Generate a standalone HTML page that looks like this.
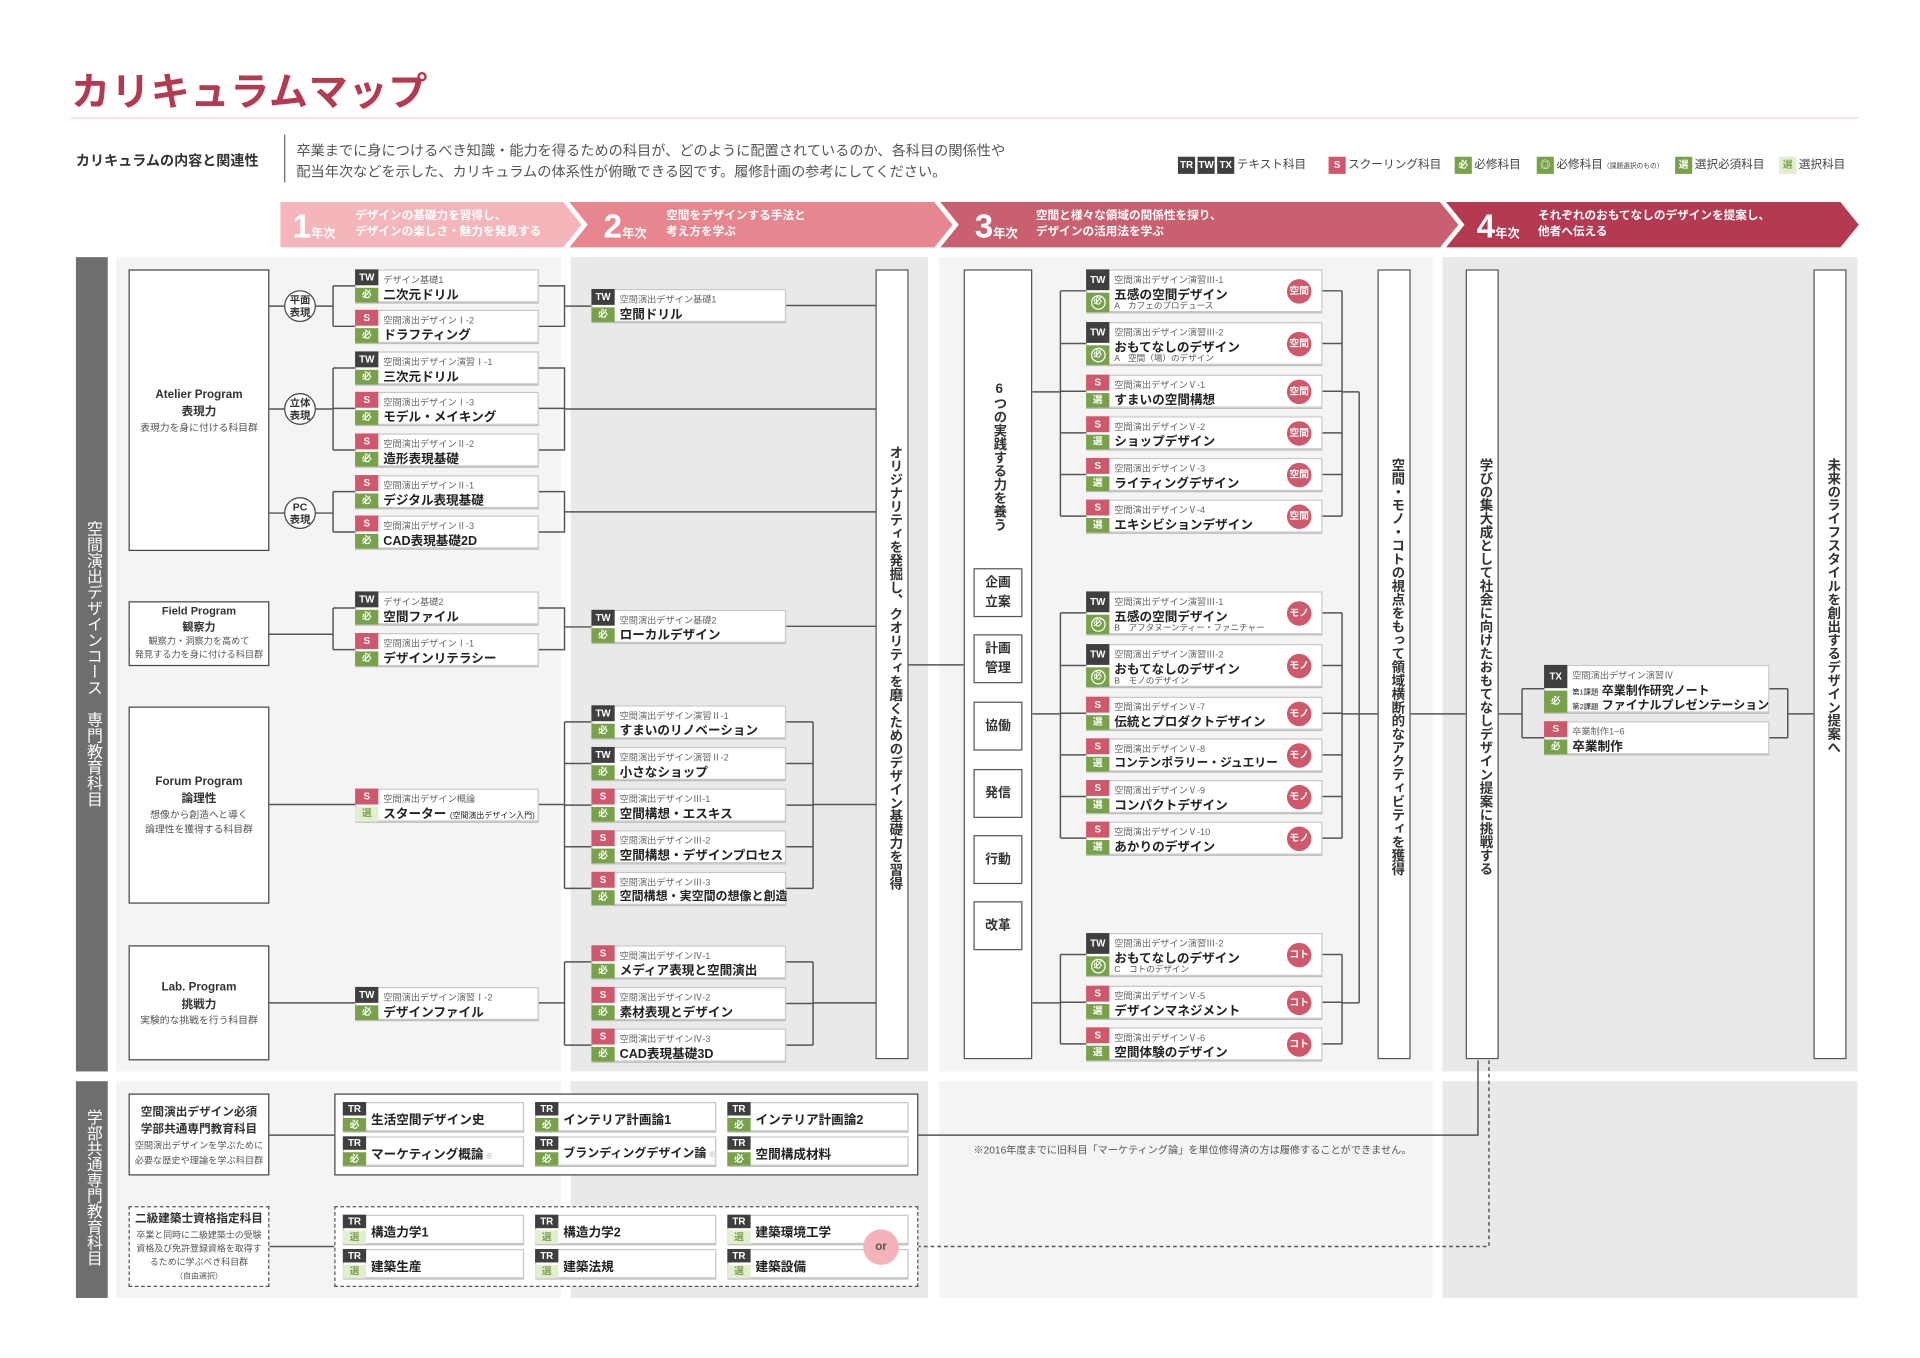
<!DOCTYPE html>
<html><head><meta charset="utf-8">
<style>
*{margin:0;padding:0;box-sizing:border-box}
html,body{width:1920px;height:1358px;overflow:hidden;background:#fff}
#w{position:absolute;left:0;top:0;width:1568px;height:1109px;transform:scale(1.22449);transform-origin:0 0;font-family:"Liberation Sans","Noto Sans CJK JP",sans-serif;color:#333}
.a{position:absolute}
.bg1{position:absolute;background:#f4f4f4}
.bg2{position:absolute;background:#e9e9e9}
.c{position:absolute;background:#fff;border:1px solid #c8c8c8;box-shadow:0 1px 0 #bdbdbd}
.c i{position:absolute;left:-1px;width:19px;height:50%;font-style:normal;font-size:8px;font-weight:bold;color:#fff;text-align:center;display:flex;align-items:center;justify-content:center}
.c i.t{top:-1px}.c i.b{bottom:-1px}
.k{background:#3f3f3f}.s{background:#d0586c}.g{background:#78a24a}.l{background:#e2eed0;color:#78a24a!important}
.gc span{display:inline-block;width:12px;height:12px;border:1px solid #fff;border-radius:50%;font-size:7px;line-height:10px}
.c b{position:absolute;left:22px;top:2px;font-size:7.5px;font-weight:normal;color:#666;white-space:nowrap}
.c u{position:absolute;left:22px;top:11px;font-size:10.3px;font-weight:bold;color:#222;text-decoration:none;white-space:nowrap}
.c em{position:absolute;left:22px;top:24px;font-size:7px;font-style:normal;color:#555;white-space:nowrap}
.bd{position:absolute;right:8px;top:50%;margin-top:-10px;width:20px;height:20px;border-radius:50%;background:#cf586b;color:#fff;font-size:8px;line-height:20px;text-align:center;font-weight:bold}
.d u{top:5px;font-size:10.3px}
.pb{position:absolute;background:#fff;border:1.3px solid #444;text-align:center}
.pb h4{font-size:9.5px;font-weight:bold;color:#333;line-height:14px}
.pb p{font-size:8px;color:#555;line-height:12px}
.vb{position:absolute;background:#fff;border:1.3px solid #555}
.vt{position:absolute;writing-mode:vertical-rl;text-orientation:upright;font-size:11px;font-weight:bold;color:#333;letter-spacing:0}
.sb{position:absolute;left:7px;width:40px;height:40px;border:1.3px solid #555;background:#fff;font-size:10.5px;font-weight:bold;display:flex;align-items:center;justify-content:center;text-align:center;line-height:16px}
.ci{position:absolute;width:26px;height:26px;border:1.3px solid #444;border-radius:50%;background:#fff;font-size:8.5px;font-weight:bold;line-height:10px;text-align:center;display:flex;align-items:center;justify-content:center}
.yn{position:absolute;color:#fff;font-weight:bold;font-size:27px;line-height:27px}
.yn small{font-size:10px}
.yt{position:absolute;color:#fff;font-weight:bold;font-size:9.5px;line-height:13px;white-space:nowrap}
.lg{position:absolute;top:128px;font-size:9.5px;color:#444;white-space:nowrap;line-height:14px}
.lg i{display:inline-block;font-style:normal;color:#fff;font-size:8px;font-weight:bold;width:14px;height:14px;text-align:center;margin-right:2px;vertical-align:top}
</style></head><body>
<div id="w">
<!-- header -->
<div class="a" style="left:58px;top:50px;font-size:32px;font-weight:bold;color:#b5394f;letter-spacing:0.5px">カリキュラムマップ</div>
<div class="a" style="left:58px;top:96px;width:1460px;height:1px;background:#f3d3d8"></div>
<div class="a" style="left:62px;top:123px;font-size:11.5px;font-weight:bold;color:#333">カリキュラムの内容と関連性</div>
<div class="a" style="left:232px;top:110px;width:1px;height:39px;background:#666"></div>
<div class="a" style="left:242px;top:115px;font-size:11.6px;color:#555;line-height:17px;white-space:nowrap">卒業までに身につけるべき知識・能力を得るための科目が、どのように配置されているのか、各科目の関係性や<br>配当年次などを示した、カリキュラムの体系性が俯瞰できる図です。履修計画の参考にしてください。</div>
<div class="lg" style="left:962px"><i class="k">TR</i><i class="k">TW</i><i class="k">TX</i>テキスト科目</div>
<div class="lg" style="left:1085px"><i class="s">S</i>スクーリング科目</div>
<div class="lg" style="left:1188px"><i class="g">必</i>必修科目</div>
<div class="lg" style="left:1255px"><i class="g">◎</i>必修科目<span style="font-size:5.5px">（課題選択のもの）</span></div>
<div class="lg" style="left:1368px"><i class="g">選</i>選択必須科目</div>
<div class="lg" style="left:1453px"><i class="l">選</i>選択科目</div>

<!-- year banner -->
<svg class="a" style="left:0;top:0" width="1568" height="1109">
<polygon points="229,165 460,165 475,183.5 460,202 229,202" fill="#f4b5bb"/>
<polygon points="465,165 763,165 778,183.5 763,202 465,202 480,183.5" fill="#e8868f"/>
<polygon points="768,165 1176,165 1191,183.5 1176,202 768,202 783,183.5" fill="#c9606f"/>
<polygon points="1181,165 1503,165 1518,183.5 1503,202 1181,202 1196,183.5" fill="#b43a52"/>
</svg>
<div class="yn" style="left:239px;top:172px">1<small>年次</small></div>
<div class="yt" style="left:290px;top:170px">デザインの基礎力を習得し、<br>デザインの楽しさ・魅力を発見する</div>
<div class="yn" style="left:493px;top:172px">2<small>年次</small></div>
<div class="yt" style="left:544px;top:170px">空間をデザインする手法と<br>考え方を学ぶ</div>
<div class="yn" style="left:796px;top:172px">3<small>年次</small></div>
<div class="yt" style="left:846px;top:170px">空間と様々な領域の関係性を探り、<br>デザインの活用法を学ぶ</div>
<div class="yn" style="left:1206px;top:172px">4<small>年次</small></div>
<div class="yt" style="left:1256px;top:170px">それぞれのおもてなしのデザインを提案し、<br>他者へ伝える</div>

<!-- backgrounds -->
<div class="bg1" style="left:95px;top:210px;width:363px;height:665px"></div>
<div class="bg2" style="left:466px;top:210px;width:292px;height:665px"></div>
<div class="bg1" style="left:767px;top:210px;width:403px;height:665px"></div>
<div class="bg2" style="left:1178px;top:210px;width:339px;height:665px"></div>
<div class="bg1" style="left:95px;top:883px;width:363px;height:177px"></div>
<div class="bg2" style="left:466px;top:883px;width:292px;height:177px"></div>
<div class="bg1" style="left:767px;top:883px;width:403px;height:177px"></div>
<div class="bg2" style="left:1178px;top:883px;width:339px;height:177px"></div>
<div class="a" style="left:62px;top:210px;width:26px;height:665px;background:#6e6e6e"></div>
<div class="a" style="left:62px;top:883px;width:26px;height:177px;background:#6e6e6e"></div>
<div class="vt" style="left:67px;top:425px;color:#fff;font-weight:normal;font-size:13px">空間演出デザインコース　専門教育科目</div>
<div class="vt" style="left:67px;top:906px;color:#fff;font-weight:normal;font-size:12.8px">学部共通専門教育科目</div>

<!-- connectors -->
<svg class="a" style="left:0;top:0" width="1568" height="1109" fill="none" stroke="#555" stroke-width="1.2">
<path d="M220 250H232M258 250H272M272 233.5V266.5M272 233.5H290M272 266.5H290"/>
<path d="M220 334H232M258 334H272M272 300.5V367.5M272 300.5H290M272 333.5H290M272 367.5H290"/>
<path d="M220 419H232M258 419H272M272 401.5V434.5M272 401.5H290M272 434.5H290"/>
<path d="M440 233.5H461V266.5H440M461 250H483M642 249.5H715"/>
<path d="M440 300.5H461V367.5H440M440 333.5H461M461 334H715"/>
<path d="M440 401.5H461V434.5H440M461 418H715"/>
<path d="M220 518H272M272 496.5V530.5M272 496.5H290M272 530.5H290M440 496.5H461V530.5H440M461 512H483M642 511.5H715"/>
<path d="M220 657H290M440 657H461M461 589.5V725.5M461 589.5H483M461 623.5H483M461 657.5H483M461 691.5H483M461 725.5H483"/>
<path d="M642 589.5H664M642 623.5H664M642 657.5H664M642 691.5H664M642 725.5H664M664 589.5V725.5M664 657H715"/>
<path d="M220 819H290M440 819H461M461 785.5V853.5M461 785.5H483M461 853.5H483M642 785.5H664M642 819.5H664M642 853.5H664M664 785.5V853.5M664 819H715"/>
<path d="M741 543H787"/>
<path d="M843 320H866M866 237.5V421.5M866 237.5H887M866 280.5H887M866 319.5H887M866 353.5H887M866 387.5H887M866 421.5H887"/>
<path d="M1080 237.5H1096M1080 280.5H1096M1080 319.5H1096M1080 353.5H1096M1080 387.5H1096M1080 421.5H1096M1096 237.5V421.5M1096 320H1110"/>
<path d="M843 583H866M866 500.5V684.5M866 500.5H887M866 543.5H887M866 582.5H887M866 616.5H887M866 650.5H887M866 684.5H887"/>
<path d="M1080 500.5H1096M1080 543.5H1096M1080 582.5H1096M1080 616.5H1096M1080 650.5H1096M1080 684.5H1096M1096 500.5V684.5M1096 583H1125"/>
<path d="M843 819H866M866 779.5V852.5M866 779.5H887M866 818.5H887M866 852.5H887M1080 779.5H1096M1080 818.5H1096M1080 852.5H1096M1096 779.5V852.5M1096 819H1110M1110 320V819"/>
<path d="M1152 583H1197M1223 583H1243M1243 562.5V602.5M1243 562.5H1261M1243 602.5H1261M1445 562.5H1460M1445 602.5H1460M1460 562.5V602.5M1460 583H1481"/>
<path d="M1207 866V927H750M220 927H273M220 1018H273M428 1003H437"/>
<path d="M1216 866V1018H750" stroke-dasharray="3,2.5"/>
</svg>

<!-- program boxes -->
<div class="pb" style="left:105px;top:220px;width:115px;height:230px;padding-top:95px"><h4>Atelier Program<br>表現力</h4><p>表現力を身に付ける科目群</p></div>
<div class="pb" style="left:105px;top:491px;width:115px;height:53px;padding-top:1px"><h4 style="line-height:12.5px;font-size:9px">Field Program<br>観察力</h4><p style="line-height:11px;font-size:7.5px">観察力・洞察力を高めて<br>発見する力を身に付ける科目群</p></div>
<div class="pb" style="left:105px;top:577px;width:115px;height:161px;padding-top:54px"><h4>Forum Program<br>論理性</h4><p>想像から創造へと導く<br>論理性を獲得する科目群</p></div>
<div class="pb" style="left:105px;top:772px;width:115px;height:94px;padding-top:27px"><h4>Lab. Program<br>挑戦力</h4><p>実験的な挑戦を行う科目群</p></div>
<div class="ci" style="left:232px;top:237px">平面<br>表現</div>
<div class="ci" style="left:232px;top:321px">立体<br>表現</div>
<div class="ci" style="left:232px;top:406px">PC<br>表現</div>

<!-- col1 cards -->
<div class="c" style="left:290px;top:220px;width:150px;height:27px"><i class="t k">TW</i><i class="b g">必</i><b>デザイン基礎1</b><u>二次元ドリル</u></div>
<div class="c" style="left:290px;top:253px;width:150px;height:27px"><i class="t s">S</i><i class="b g">必</i><b>空間演出デザインⅠ-2</b><u>ドラフティング</u></div>
<div class="c" style="left:290px;top:287px;width:150px;height:27px"><i class="t k">TW</i><i class="b g">必</i><b>空間演出デザイン演習Ⅰ-1</b><u>三次元ドリル</u></div>
<div class="c" style="left:290px;top:320px;width:150px;height:27px"><i class="t s">S</i><i class="b g">必</i><b>空間演出デザインⅠ-3</b><u>モデル・メイキング</u></div>
<div class="c" style="left:290px;top:354px;width:150px;height:27px"><i class="t s">S</i><i class="b g">必</i><b>空間演出デザインⅡ-2</b><u>造形表現基礎</u></div>
<div class="c" style="left:290px;top:388px;width:150px;height:27px"><i class="t s">S</i><i class="b g">必</i><b>空間演出デザインⅡ-1</b><u>デジタル表現基礎</u></div>
<div class="c" style="left:290px;top:421px;width:150px;height:27px"><i class="t s">S</i><i class="b g">必</i><b>空間演出デザインⅡ-3</b><u>CAD表現基礎2D</u></div>
<div class="c" style="left:290px;top:483px;width:150px;height:27px"><i class="t k">TW</i><i class="b g">必</i><b>デザイン基礎2</b><u>空間ファイル</u></div>
<div class="c" style="left:290px;top:517px;width:150px;height:27px"><i class="t s">S</i><i class="b g">必</i><b>空間演出デザインⅠ-1</b><u>デザインリテラシー</u></div>
<div class="c" style="left:290px;top:644px;width:150px;height:27px"><i class="t s">S</i><i class="b l">選</i><b>空間演出デザイン概論</b><u>スターター <span style="font-size:6.5px;font-weight:normal">(空間演出デザイン入門)</span></u></div>
<div class="c" style="left:290px;top:806px;width:150px;height:27px"><i class="t k">TW</i><i class="b g">必</i><b>空間演出デザイン演習Ⅰ-2</b><u>デザインファイル</u></div>

<!-- col2 cards -->
<div class="c" style="left:483px;top:236px;width:159px;height:27px"><i class="t k">TW</i><i class="b g">必</i><b>空間演出デザイン基礎1</b><u>空間ドリル</u></div>
<div class="c" style="left:483px;top:498px;width:159px;height:27px"><i class="t k">TW</i><i class="b g">必</i><b>空間演出デザイン基礎2</b><u>ローカルデザイン</u></div>
<div class="c" style="left:483px;top:576px;width:159px;height:27px"><i class="t k">TW</i><i class="b g">必</i><b>空間演出デザイン演習Ⅱ-1</b><u>すまいのリノベーション</u></div>
<div class="c" style="left:483px;top:610px;width:159px;height:27px"><i class="t k">TW</i><i class="b g">必</i><b>空間演出デザイン演習Ⅱ-2</b><u>小さなショップ</u></div>
<div class="c" style="left:483px;top:644px;width:159px;height:27px"><i class="t s">S</i><i class="b g">必</i><b>空間演出デザインⅢ-1</b><u>空間構想・エスキス</u></div>
<div class="c" style="left:483px;top:678px;width:159px;height:27px"><i class="t s">S</i><i class="b g">必</i><b>空間演出デザインⅢ-2</b><u>空間構想・デザインプロセス</u></div>
<div class="c" style="left:483px;top:712px;width:159px;height:27px"><i class="t s">S</i><i class="b g">必</i><b>空間演出デザインⅢ-3</b><u style="font-size:9.8px">空間構想・実空間の想像と創造</u></div>
<div class="c" style="left:483px;top:772px;width:159px;height:27px"><i class="t s">S</i><i class="b g">必</i><b>空間演出デザインⅣ-1</b><u>メディア表現と空間演出</u></div>
<div class="c" style="left:483px;top:806px;width:159px;height:27px"><i class="t s">S</i><i class="b g">必</i><b>空間演出デザインⅣ-2</b><u>素材表現とデザイン</u></div>
<div class="c" style="left:483px;top:840px;width:159px;height:27px"><i class="t s">S</i><i class="b g">必</i><b>空間演出デザインⅣ-3</b><u>CAD表現基礎3D</u></div>

<!-- vertical boxes -->
<div class="vb" style="left:715px;top:220px;width:27px;height:645px"><div class="vt" style="left:7px;top:143px">オリジナリティを発掘し、クオリティを磨くためのデザイン基礎力を習得</div></div>
<div class="vb" style="left:787px;top:220px;width:56px;height:645px"><div class="vt" style="left:20px;top:91px">6つの実践する力を養う</div>
<div class="sb" style="top:243px">企画<br>立案</div><div class="sb" style="top:297px">計画<br>管理</div><div class="sb" style="top:352px">協働</div><div class="sb" style="top:407px">発信</div><div class="sb" style="top:461px">行動</div><div class="sb" style="top:515px">改革</div></div>
<div class="vb" style="left:1125px;top:220px;width:27px;height:645px"><div class="vt" style="left:7px;top:153px">空間・モノ・コトの視点をもって領域横断的なアクティビティを獲得</div></div>
<div class="vb" style="left:1197px;top:220px;width:27px;height:645px"><div class="vt" style="left:7px;top:153px">学びの集大成として社会に向けたおもてなしデザイン提案に挑戦する</div></div>
<div class="vb" style="left:1481px;top:220px;width:27px;height:645px"><div class="vt" style="left:7px;top:153px">未来のライフスタイルを創出するデザイン提案へ</div></div>

<!-- col3 cards -->
<div class="c" style="left:887px;top:220px;width:193px;height:35px"><i class="t k">TW</i><i class="b g gc"><span>必</span></i><b>空間演出デザイン演習Ⅲ-1</b><u>五感の空間デザイン</u><em>A　カフェのプロデュース</em><span class="bd">空間</span></div>
<div class="c" style="left:887px;top:263px;width:193px;height:35px"><i class="t k">TW</i><i class="b g gc"><span>必</span></i><b>空間演出デザイン演習Ⅲ-2</b><u>おもてなしのデザイン</u><em>A　空間（場）のデザイン</em><span class="bd">空間</span></div>
<div class="c" style="left:887px;top:306px;width:193px;height:27px"><i class="t s">S</i><i class="b g">選</i><b>空間演出デザインⅤ-1</b><u>すまいの空間構想</u><span class="bd">空間</span></div>
<div class="c" style="left:887px;top:340px;width:193px;height:27px"><i class="t s">S</i><i class="b g">選</i><b>空間演出デザインⅤ-2</b><u>ショップデザイン</u><span class="bd">空間</span></div>
<div class="c" style="left:887px;top:374px;width:193px;height:27px"><i class="t s">S</i><i class="b g">選</i><b>空間演出デザインⅤ-3</b><u>ライティングデザイン</u><span class="bd">空間</span></div>
<div class="c" style="left:887px;top:408px;width:193px;height:27px"><i class="t s">S</i><i class="b g">選</i><b>空間演出デザインⅤ-4</b><u>エキシビションデザイン</u><span class="bd">空間</span></div>
<div class="c" style="left:887px;top:483px;width:193px;height:35px"><i class="t k">TW</i><i class="b g gc"><span>必</span></i><b>空間演出デザイン演習Ⅲ-1</b><u>五感の空間デザイン</u><em>B　アフタヌーンティー・ファニチャー</em><span class="bd">モノ</span></div>
<div class="c" style="left:887px;top:526px;width:193px;height:35px"><i class="t k">TW</i><i class="b g gc"><span>必</span></i><b>空間演出デザイン演習Ⅲ-2</b><u>おもてなしのデザイン</u><em>B　モノのデザイン</em><span class="bd">モノ</span></div>
<div class="c" style="left:887px;top:569px;width:193px;height:27px"><i class="t s">S</i><i class="b g">選</i><b>空間演出デザインⅤ-7</b><u>伝統とプロダクトデザイン</u><span class="bd">モノ</span></div>
<div class="c" style="left:887px;top:603px;width:193px;height:27px"><i class="t s">S</i><i class="b g">選</i><b>空間演出デザインⅤ-8</b><u style="font-size:9.6px">コンテンポラリー・ジュエリー</u><span class="bd">モノ</span></div>
<div class="c" style="left:887px;top:637px;width:193px;height:27px"><i class="t s">S</i><i class="b g">選</i><b>空間演出デザインⅤ-9</b><u>コンパクトデザイン</u><span class="bd">モノ</span></div>
<div class="c" style="left:887px;top:671px;width:193px;height:27px"><i class="t s">S</i><i class="b g">選</i><b>空間演出デザインⅤ-10</b><u>あかりのデザイン</u><span class="bd">モノ</span></div>
<div class="c" style="left:887px;top:762px;width:193px;height:35px"><i class="t k">TW</i><i class="b g gc"><span>必</span></i><b>空間演出デザイン演習Ⅲ-2</b><u>おもてなしのデザイン</u><em>C　コトのデザイン</em><span class="bd">コト</span></div>
<div class="c" style="left:887px;top:805px;width:193px;height:27px"><i class="t s">S</i><i class="b g">選</i><b>空間演出デザインⅤ-5</b><u>デザインマネジメント</u><span class="bd">コト</span></div>
<div class="c" style="left:887px;top:839px;width:193px;height:27px"><i class="t s">S</i><i class="b g">選</i><b>空間演出デザインⅤ-6</b><u>空間体験のデザイン</u><span class="bd">コト</span></div>

<!-- col4 cards -->
<div class="c" style="left:1261px;top:543px;width:184px;height:39px"><i class="t k">TX</i><i class="b g">必</i><b>空間演出デザイン演習Ⅳ</b><u style="top:12px;font-size:9.8px"><span style="font-size:6px;font-weight:normal">第1課題</span> 卒業制作研究ノート</u><u style="top:24px;font-size:9.8px"><span style="font-size:6px;font-weight:normal">第2課題</span> ファイナルプレゼンテーション</u></div>
<div class="c" style="left:1261px;top:589px;width:184px;height:27px"><i class="t s">S</i><i class="b g">必</i><b>卒業制作1~6</b><u>卒業制作</u></div>

<!-- bottom section -->
<div class="pb" style="left:105px;top:893px;width:115px;height:67px;padding-top:8px"><h4>空間演出デザイン必須<br>学部共通専門教育科目</h4><p style="font-size:7.5px">空間演出デザインを学ぶために<br>必要な歴史や理論を学ぶ科目群</p></div>
<div class="pb" style="left:273px;top:893px;width:477px;height:67px"></div>
<div class="pb" style="left:105px;top:985px;width:115px;height:66px;border:1.3px dashed #555;padding-top:3px"><h4>二級建築士資格指定科目</h4><p style="line-height:11px;font-size:7.3px">卒業と同時に二級建築士の受験<br>資格及び免許登録資格を取得す<br>るために学ぶべき科目群<br><span style="font-size:6.5px">（自由選択）</span></p></div>
<div class="pb" style="left:273px;top:985px;width:477px;height:66px;border:1.3px dashed #555"></div>

<div class="c d" style="left:280px;top:900px;width:148px;height:24px"><i class="t k">TR</i><i class="b g">必</i><u>生活空間デザイン史</u></div>
<div class="c d" style="left:437px;top:900px;width:148px;height:24px"><i class="t k">TR</i><i class="b g">必</i><u>インテリア計画論1</u></div>
<div class="c d" style="left:594px;top:900px;width:148px;height:24px"><i class="t k">TR</i><i class="b g">必</i><u>インテリア計画論2</u></div>
<div class="c d" style="left:280px;top:928px;width:148px;height:24px"><i class="t k">TR</i><i class="b g">必</i><u>マーケティング概論<span style="font-size:6px;color:#999"> ※</span></u></div>
<div class="c d" style="left:437px;top:928px;width:148px;height:24px"><i class="t k">TR</i><i class="b g">必</i><u style="font-size:9.8px">ブランディングデザイン論<span style="font-size:6px;color:#999"> ※</span></u></div>
<div class="c d" style="left:594px;top:928px;width:148px;height:24px"><i class="t k">TR</i><i class="b g">必</i><u>空間構成材料</u></div>
<div class="c d" style="left:280px;top:992px;width:148px;height:24px"><i class="t k">TR</i><i class="b l">選</i><u>構造力学1</u></div>
<div class="c d" style="left:437px;top:992px;width:148px;height:24px"><i class="t k">TR</i><i class="b l">選</i><u>構造力学2</u></div>
<div class="c d" style="left:594px;top:992px;width:148px;height:24px"><i class="t k">TR</i><i class="b l">選</i><u>建築環境工学</u></div>
<div class="c d" style="left:280px;top:1020px;width:148px;height:24px"><i class="t k">TR</i><i class="b l">選</i><u>建築生産</u></div>
<div class="c d" style="left:437px;top:1020px;width:148px;height:24px"><i class="t k">TR</i><i class="b l">選</i><u>建築法規</u></div>
<div class="c d" style="left:594px;top:1020px;width:148px;height:24px"><i class="t k">TR</i><i class="b l">選</i><u>建築設備</u></div>
<div class="a" style="left:705px;top:1004px;width:29px;height:29px;border-radius:50%;background:#f4b3ba;color:#555;font-size:9.5px;font-weight:bold;text-align:center;line-height:29px">or</div>
<div class="a" style="left:795px;top:933px;font-size:8.3px;color:#555;white-space:nowrap">※2016年度までに旧科目「マーケティング論」を単位修得済の方は履修することができません。</div>
</div>
</body></html>
